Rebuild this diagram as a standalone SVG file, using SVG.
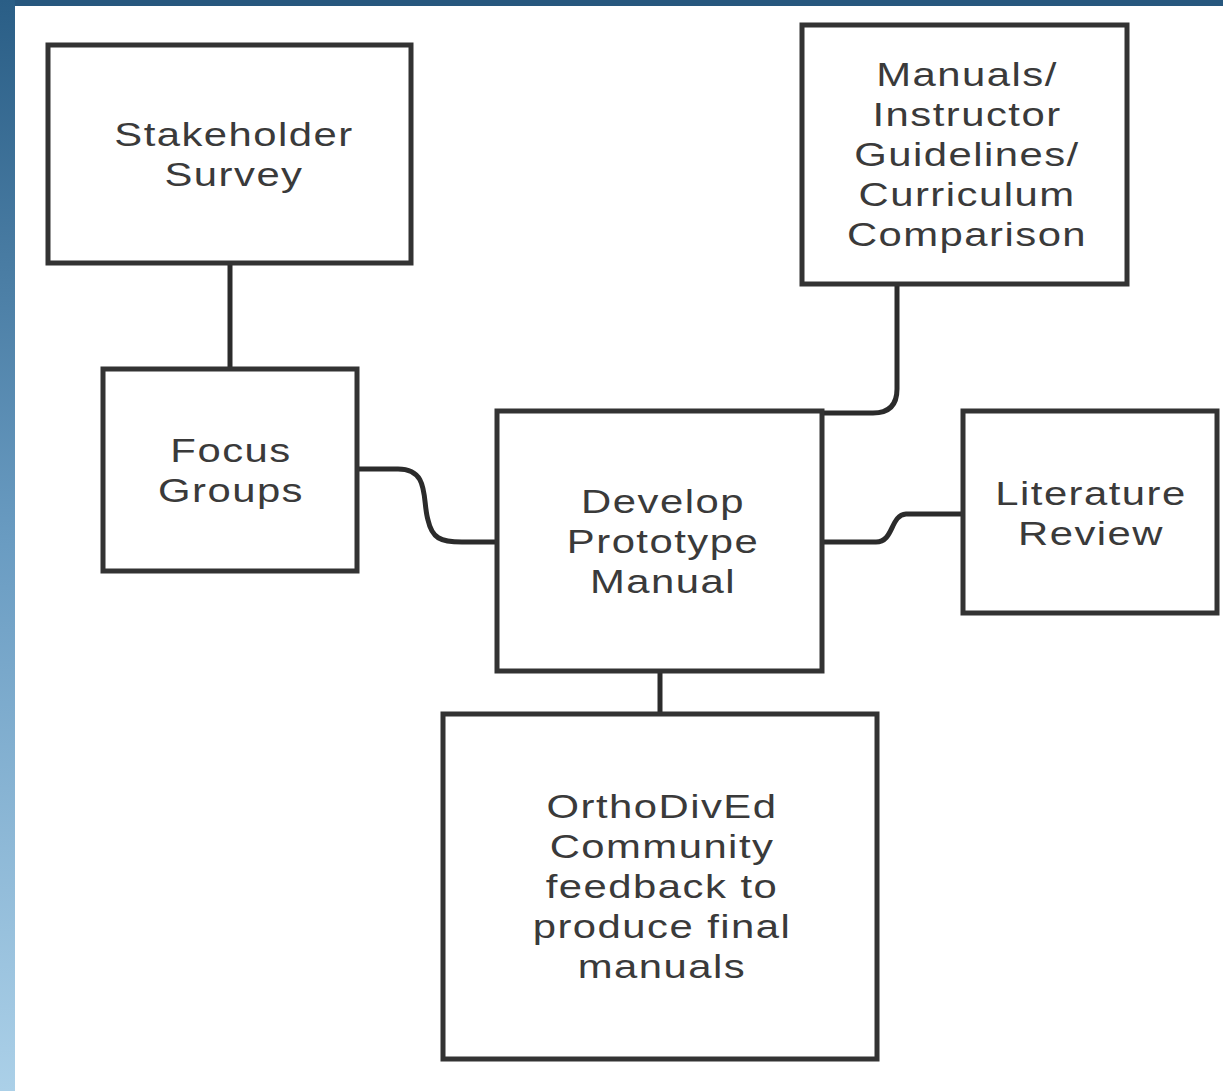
<svg xmlns="http://www.w3.org/2000/svg" width="1223" height="1091" viewBox="0 0 1223 1091">
<defs>
<linearGradient id="side" x1="0" y1="0" x2="0" y2="1">
<stop offset="0" stop-color="#2a5e86"/>
<stop offset="0.5" stop-color="#6a9cc2"/>
<stop offset="1" stop-color="#abd0e8"/>
</linearGradient>
<style>
.box{fill:#ffffff;stroke:#333333;stroke-width:5}
.conn{fill:none;stroke:#2b2b2b;stroke-width:5}
.lbl{font-family:"Liberation Sans",Arial,sans-serif;font-size:34px;fill:#3a3a3a;text-anchor:middle;letter-spacing:1.2px}
</style>
</defs>
<rect x="0" y="0" width="1223" height="1091" fill="#ffffff"/>
<rect x="0" y="0" width="1223" height="6" fill="#27577e"/>
<rect x="0" y="0" width="15" height="1091" fill="url(#side)"/>
<g id="connectors">
<path class="conn" d="M230,263 V369"/>
<path class="conn" d="M357,469 H398 C430,469 422,500 428,520 C432,538 440,542 462,542 H497"/>
<path class="conn" d="M897,284 V389 Q897,413 873,413 H822"/>
<path class="conn" d="M822,542 H876 C894,542 890,515 906,514 H963"/>
<path class="conn" d="M660,671 V714"/>
</g>
<g id="stakeholder">
<rect class="box" x="48" y="45" width="363" height="218"/>
<g transform="translate(234,0) scale(1.23,1)"><text class="lbl"><tspan x="0" y="146">Stakeholder</tspan><tspan x="0" y="186">Survey</tspan></text></g>
</g>
<g id="focus">
<rect class="box" x="103" y="369" width="254" height="202"/>
<g transform="translate(231,0) scale(1.23,1)"><text class="lbl"><tspan x="0" y="462">Focus</tspan><tspan x="0" y="502">Groups</tspan></text></g>
</g>
<g id="manuals">
<rect class="box" x="802" y="25" width="325" height="259"/>
<g transform="translate(967,0) scale(1.23,1)"><text class="lbl"><tspan x="0" y="86">Manuals/</tspan><tspan x="0" y="126">Instructor</tspan><tspan x="0" y="166">Guidelines/</tspan><tspan x="0" y="206">Curriculum</tspan><tspan x="0" y="246">Comparison</tspan></text></g>
</g>
<g id="develop">
<rect class="box" x="497" y="411" width="325" height="260"/>
<g transform="translate(663,0) scale(1.23,1)"><text class="lbl"><tspan x="0" y="513">Develop</tspan><tspan x="0" y="553">Prototype</tspan><tspan x="0" y="593">Manual</tspan></text></g>
</g>
<g id="literature">
<rect class="box" x="963" y="411" width="254" height="202"/>
<g transform="translate(1091,0) scale(1.23,1)"><text class="lbl"><tspan x="0" y="505">Literature</tspan><tspan x="0" y="545">Review</tspan></text></g>
</g>
<g id="orthodived">
<rect class="box" x="443" y="714" width="434" height="345"/>
<g transform="translate(662,0) scale(1.23,1)"><text class="lbl"><tspan x="0" y="818">OrthoDivEd</tspan><tspan x="0" y="858">Community</tspan><tspan x="0" y="898">feedback to</tspan><tspan x="0" y="938">produce final</tspan><tspan x="0" y="978">manuals</tspan></text></g>
</g>
</svg>
